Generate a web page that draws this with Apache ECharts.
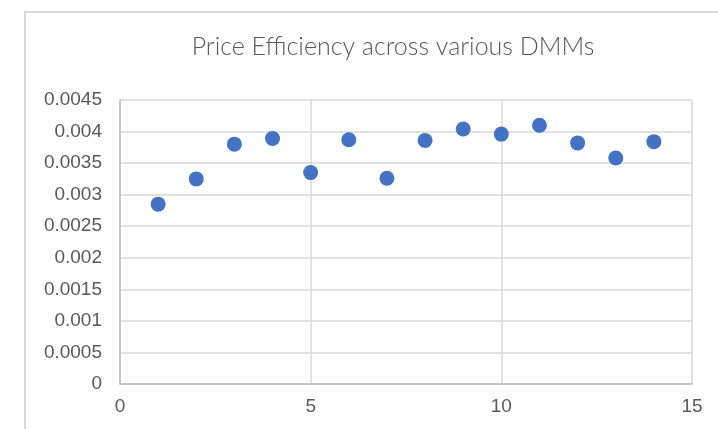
<!DOCTYPE html>
<html>
<head>
<meta charset="utf-8">
<script src="https://cdn.jsdelivr.net/npm/echarts@6/dist/echarts.min.js"></script>
<style>
  html, body { margin: 0; padding: 0; background: #fff; overflow: hidden; }
  .frame {
    position: absolute; left: 24px; top: 11px;
    width: 800px; height: 500px;
    border: 2px solid #d9d9d9;
  }
  .chart { position: absolute; left: 0; top: 0; width: 718px; height: 429px; }
</style>
</head>
<body>
<div class="frame"></div>
<div class="chart" id="chart"></div>
<script>
// DMM number and its price efficiency
const dmm = [1, 2, 3, 4, 5, 6, 7, 8, 9, 10, 11, 12, 13, 14];
const efficiency = [0.00285, 0.00325, 0.00380, 0.00389, 0.00335, 0.00387, 0.00326,
  0.00386, 0.00404, 0.00396, 0.00410, 0.00382, 0.00358, 0.00384];

const chart = echarts.init(document.getElementById("chart"));
const option = {
  animation: false,
  title: {
    text: "Price Efficiency across various DMMs",
    left: 388,
    textAlign: "center",
    top: 29,
    textStyle: {
      fontFamily: "Lato",
      fontWeight: 300,
      fontSize: 25,
      color: "#595959",
    },
  },
  grid: {
    left: 120,
    top: 100,
    width: 572,
    height: 284,
  },
  xAxis: {
    type: "value",
    min: 0,
    max: 15,
    interval: 5,
    axisLine: { lineStyle: { color: "#bfbfbf", width: 1.5 } },
    axisTick: { show: false },
    splitLine: { lineStyle: { color: "#d9d9d9", width: 1.5 } },
    axisLabel: { color: "#595959", fontSize: 19, fontFamily: "Liberation Sans", margin: 13 },
  },
  yAxis: {
    type: "value",
    min: 0,
    max: 0.0045,
    interval: 0.0005,
    axisLine: { show: true, lineStyle: { color: "#bfbfbf", width: 1.5 } },
    axisTick: { show: false },
    splitLine: { lineStyle: { color: "#d9d9d9", width: 1.5 } },
    axisLabel: {
      color: "#595959", fontSize: 19, fontFamily: "Liberation Sans", margin: 18,
      formatter: (v) => String(parseFloat(v.toFixed(4))),
    },
  },
  series: [
    {
      type: "scatter",
      data: dmm.map((d, i) => [d, efficiency[i]]),
      symbolSize: 15,
      itemStyle: { color: "#4472c4", opacity: 1 },
    },
  ],
};
chart.setOption(option);
</script>
</body>
</html>
